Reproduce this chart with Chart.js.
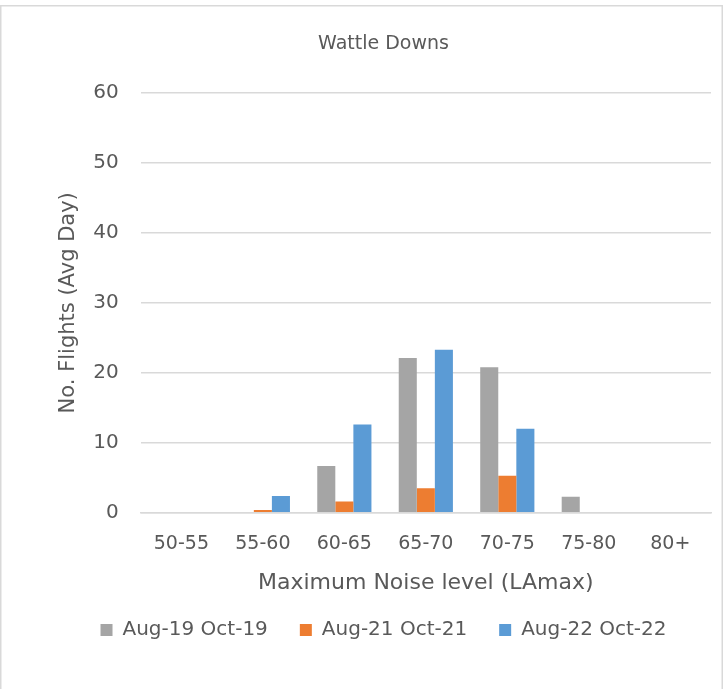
<!DOCTYPE html>
<html><head><meta charset="utf-8">
<script src="https://cdn.jsdelivr.net/npm/chart.js@4"></script>
<style>
html,body{margin:0;padding:0;background:#fff;}
canvas{display:block;}
</style></head>
<body>
<canvas id="c" width="723" height="689"></canvas>
<script>
const categories = ["50-55","55-60","60-65","65-70","70-75","75-80","80+"];
const seriesNames = ["Aug-19 Oct-19","Aug-21 Oct-21","Aug-22 Oct-22"];
const aug19 = [0, 0, 6.7, 22.1, 20.8, 2.3, 0];
const aug21 = [0, 0.4, 1.6, 3.5, 5.3, 0, 0];
const aug22 = [0, 2.4, 12.6, 23.3, 12.0, 0, 0];
const colors = ["#a5a5a5","#ed7d31","#5b9bd5"];
const yTicks = [0,10,20,30,40,50,60];

const font = "'DejaVu Sans', sans-serif";
const frame = {
  id: 'frame',
  beforeDraw(chart) {
    const ctx = chart.ctx;
    ctx.save();
    ctx.fillStyle = '#fff';
    ctx.fillRect(0, 0, chart.width, chart.height);
    ctx.strokeStyle = '#d9d9d9';
    ctx.lineWidth = 1.5;
    ctx.strokeRect(0.75, 5.75, chart.width - 1.5, chart.height - 5);
    ctx.restore();
  }
};
new Chart(document.getElementById('c'), {
  type: 'bar',
  data: {
    labels: categories,
    datasets: [aug19, aug21, aug22].map((d,i)=>({
      label: seriesNames[i], data: d, backgroundColor: colors[i],
      categoryPercentage: 0.665, barPercentage: 1.0
    }))
  },
  plugins: [frame],
  options: {
    responsive: false, animation: false,
    layout: { padding: { left: 56, right: 12, top: 20, bottom: 39 } },
    plugins: {
      title: { display: true, text: 'Wattle Downs', color: '#595959',
        font: { family: font, size: 19, weight: 'normal' }, padding: { top: 13, bottom: 37 } },
      legend: { position: 'bottom',
        labels: { color: '#595959', font: { family: font, size: 20 }, boxWidth: 12, boxHeight: 12, padding: 32 } },
      tooltip: { enabled: false }
    },
    scales: {
      x: {
        grid: { display: false, drawTicks: false },
        border: { display: true, color: '#d9d9d9', width: 1.5 },
        ticks: { color: '#595959', font: { family: font, size: 19 }, padding: 20 },
        title: { display: true, text: 'Maximum Noise level (LAmax)', color: '#595959',
          font: { family: font, size: 22 }, padding: { top: -6, bottom: -8 } }
      },
      y: {
        min: 0, max: 60,
        afterBuildTicks: ax => { ax.ticks = yTicks.map(v=>({value:v})); },
        grid: { color: '#d9d9d9', lineWidth: 1.5, drawTicks: false },
        border: { display: false },
        ticks: { color: '#595959', font: { family: font, size: 20 }, padding: 22 },
        title: { display: true, text: 'No. Flights (Avg Day)', color: '#595959',
          font: { family: font, size: 21 }, padding: { top: 0, bottom: -10 } }
      }
    }
  }
});
</script>
</body></html>
